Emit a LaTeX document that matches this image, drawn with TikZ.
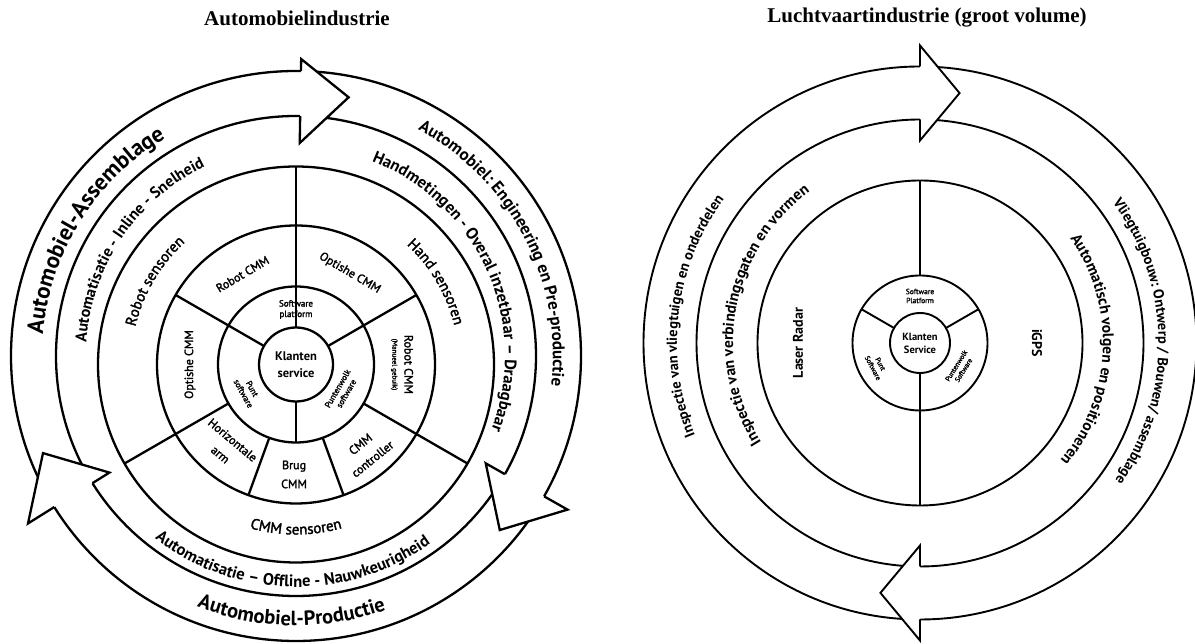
\documentclass[tikz,border=0pt]{standalone}
\usepackage{fontspec}
\newfontfamily\labelfont{PT Sans}
\newfontfamily\medfont{PT Sans}[FakeBold=2]
\newfontfamily\titlefont{Liberation Serif}
\usetikzlibrary{calc,decorations.text}

% font size shortcut: size and line distance
\newcommand\lsz[2]{\fontsize{#1}{#2}\selectfont}

% text set along an arc: centre, radius, start angle, end angle, format, text
\newcommand\bandtext[6]{%
  \path[decorate,decoration={text along path,text align=center,text={|#5|#6}}]
    ($(#1)+(#3:#2)$) arc[start angle=#3,end angle=#4,radius=#2];}

% curved arrow head: centre, back angle, tip angle, shaft inner/outer radius,
% barb inner/outer radius, tip radius
\newcommand\ringhead[8]{%
  \fill[white] ($(#1)+(#2:#7)$) -- ($(#1)+(#3:#8)$) -- ($(#1)+(#2:#6)$) -- cycle;
  \draw ($(#1)+(#2:#5)$) -- ($(#1)+(#2:#7)$) -- ($(#1)+(#3:#8)$)
        -- ($(#1)+(#2:#6)$) -- ($(#1)+(#2:#4)$);}

\begin{document}
\begin{tikzpicture}[x=1pt,y=1pt,line join=miter,
  cell/.style={font=\medfont\lsz{12}{19},align=center,inner sep=0pt},
  softcell/.style={font=\medfont\lsz{8.5}{10},align=center,inner sep=0pt},
  core/.style={font=\labelfont\bfseries\lsz{12.5}{17},align=center,inner sep=0pt},
  title/.style={font=\titlefont\bfseries\lsz{21}{24},inner sep=0pt}]
\useasboundingbox (0,0) rectangle (1195,644);
\fill[white] (0,0) rectangle (1195,644);

% ---------------- titles ----------------
\node[title] (titleA) at (297,626) {Automobielindustrie};
\node[title] (titleB) at (927,626) {Luchtvaartindustrie (groot volume)};

% ================= automotive wheel =================
\coordinate (L) at (296,279.5);
\coordinate (LA) at (296,288);
\begin{scope}[line width=2.3pt]
  \draw (LA) circle[radius=240];
  \draw (LA) circle[radius=285];
  \ringhead{LA}{89}{78.5}{240}{285}{213}{297}{264}
  \ringhead{LA}{-29.5}{-40.5}{240}{285}{218}{312}{268}
  \ringhead{LA}{212}{201}{240}{285}{220}{316}{271}
  \draw (L) circle[radius=37];
  \draw (L) circle[radius=78];
  \draw (L) circle[radius=139];
  \draw (L) circle[radius=198];
  \draw ($(L)+(90:37)$) -- ($(L)+(90:198)$);
  \draw ($(L)+(30:37)$) -- ($(L)+(30:139)$);
  \draw ($(L)+(150:37)$) -- ($(L)+(150:139)$);
  \draw ($(L)+(270:37)$) -- ($(L)+(270:78)$);
  \draw ($(L)+(210:78)$) -- ($(L)+(210:198)$);
  \draw ($(L)+(330:78)$) -- ($(L)+(330:198)$);
  \draw ($(L)+(250:78)$) -- ($(L)+(250:139)$);
  \draw ($(L)+(290:78)$) -- ($(L)+(290:139)$);
\end{scope}

% core and software ring
\node[core] (klantenA) at (L) {Klanten\\service};
\node[softcell,font=\medfont\lsz{9}{10.5}] (platformA) at ($(L)+(90:55)$) {Software\\platform};
\node[softcell,rotate=-61] (puntA) at ($(L)+(209:55)$) {Punt\\software};
\node[softcell,rotate=60] (wolkA) at ($(L)+(330:53)$) {Puntenwolk\\software};

% CMM ring
\node[cell,rotate=30.6] (robotcmm) at ($(L)+(120.6:105)$) {Robot CMM};
\node[cell,rotate=-30.5] (optishe1) at ($(L)+(59.5:106)$) {Optishe CMM};
\node[cell,rotate=90] (optishe2) at ($(L)+(180:106)$) {Optishe CMM};
\node[cell,rotate=-90,font=\medfont\lsz{12}{12}] (robotman) at ($(L)+(0:106)$)
  {Robot CMM\\{\lsz{7}{8}(Manueel gebuik)}};
\node[cell,rotate=-40] (horarm) at ($(L)+(230:108)$) {Horizontale\\arm};
\node[cell] (brug) at ($(L)+(269:110)$) {Brug\\CMM};
\node[cell,rotate=39] (controller) at ($(L)+(309:112)$) {CMM\\controller};

% sensor ring
\bandtext{L}{165}{200}{99}{\medfont\lsz{15}{15}}{Robot sensoren}
\bandtext{L}{163}{80}{-19}{\medfont\lsz{15}{15}}{Hand sensoren}
\bandtext{L}{170}{220}{320}{\medfont\lsz{15}{15}}{CMM sensoren}

% inner band
\bandtext{LA}{210}{208}{84}{\labelfont\bfseries\lsz{16}{16}}{Automatisatie - Inline - Snelheid}
\bandtext{LA}{209}{86}{-38}{\labelfont\bfseries\lsz{16.5}{16.5}}{Handmetingen - Overal inzetbaar – Draagbaar}
\bandtext{LA}{231}{207}{331}{\labelfont\bfseries\lsz{16.5}{16.5}}{Automatisatie – Offline - Nauwkeurigheid}

% outer band
\bandtext{LA}{254}{210}{86}{\labelfont\bfseries\lsz{23}{23}}{Automobiel-Assemblage}
\bandtext{LA}{257}{90}{-35}{\labelfont\bfseries\lsz{17}{17}}{Automobiel: Engineering en Pre-productie}
\bandtext{LA}{269.5}{216}{322}{\labelfont\bfseries\lsz{20.5}{20.5}}{Automobiel-Productie}

% ================= aerospace wheel =================
\coordinate (R) at (920,301);
\begin{scope}[line width=1.9pt]
  \draw (R) circle[radius=223.5];
  \draw (R) circle[radius=276.5];
  \ringhead{R}{90}{81}{223.5}{276.5}{202.5}{297.5}{253}
  \ringhead{R}{270}{261}{223.5}{276.5}{202.5}{297.5}{253}
  \draw (R) circle[radius=30];
  \draw (R) circle[radius=67.5];
  \draw (R) circle[radius=162.5];
  \draw ($(R)+(90:67.5)$) -- ($(R)+(90:162.5)$);
  \draw ($(R)+(270:30)$) -- ($(R)+(270:162.5)$);
  \draw ($(R)+(30:30)$) -- ($(R)+(30:67.5)$);
  \draw ($(R)+(150:30)$) -- ($(R)+(150:67.5)$);
\end{scope}

\node[core,font=\labelfont\bfseries\lsz{10.5}{13}] (klantenB) at (R) {Klanten\\Service};
\node[softcell,font=\medfont\lsz{7.5}{9}] (platformB) at ($(R)+(90:47)$) {Software\\Platform};
\node[softcell,font=\medfont\lsz{7}{8.5},rotate=-62] (puntB) at ($(R)+(208:49)$) {Punt\\Software};
\node[softcell,font=\medfont\lsz{7}{8.5},rotate=58] (wolkB) at ($(R)+(328:47)$) {Puntenwolk\\Software};
\node[font=\labelfont\bfseries\lsz{14}{14},rotate=90,inner sep=0pt] (laser) at ($(R)+(180:122)$) {Laser Radar};
\node[font=\labelfont\bfseries\lsz{14}{14},rotate=-90,inner sep=0pt] (igps) at ($(R)+(0:117)$) {iGPS};

\bandtext{R}{187}{229}{109}{\labelfont\bfseries\lsz{15.5}{15.5}}{Inspectie van verbindingsgaten en vormen}
\bandtext{R}{243}{233}{113}{\labelfont\bfseries\lsz{14.5}{14.5}}{Inspectie van vliegtuigen en onderdelen}
\bandtext{R}{183}{58}{-63}{\labelfont\bfseries\lsz{15.5}{15.5}}{Automatisch volgen en positioneren}
\bandtext{R}{238.5}{60}{-59}{\labelfont\bfseries\lsz{14.5}{14.5}}{Vliegtuigbouw: Ontwerp / Bouwen/ assemblage}
\end{tikzpicture}
\end{document}
